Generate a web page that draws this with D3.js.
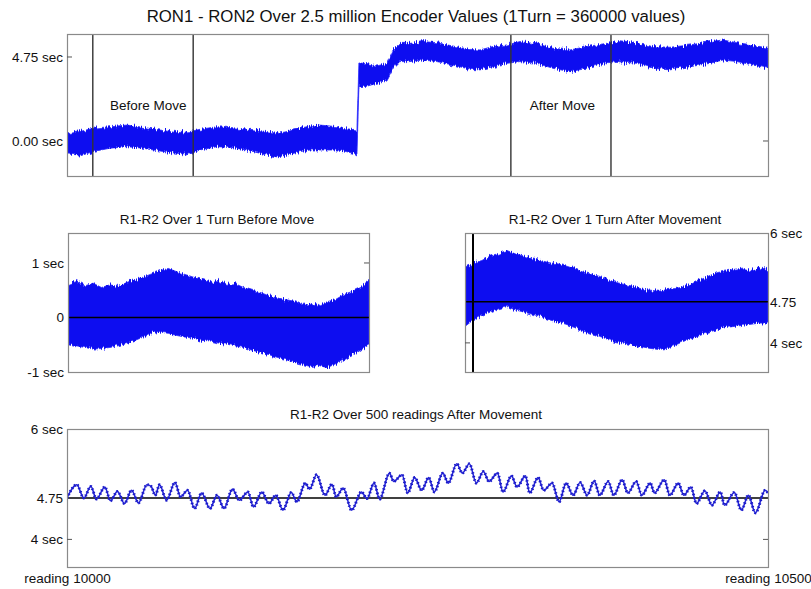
<!DOCTYPE html>
<html>
<head>
<meta charset="utf-8">
<script src="https://cdn.jsdelivr.net/npm/d3@7"></script>
<style>
  body { margin: 0; background: #fff; }
  text { font-family: "Liberation Sans", Arial, sans-serif; fill: #111; }
</style>
</head>
<body>
<svg id="svg" width="811" height="589"></svg>
<script>
// ---- top panel: band envelope over 2.5 million encoder values (x in thousands)
var topPos = [0, 46, 93, 153, 214, 271, 332, 392, 439, 474, 535, 592, 653, 713, 749, 785, 831, 867, 902, 963, 984, 1020, 1034,
  1041, 1070, 1105, 1141, 1163, 1187, 1223, 1270, 1319, 1376, 1437, 1473, 1519, 1569, 1615, 1676, 1733, 1794, 1854, 1911,
  1961, 2033, 2090, 2150, 2222, 2293, 2339, 2389, 2446, 2500];
var topUpper = [0.40, 0.53, 0.72, 0.81, 0.90, 0.77, 0.62, 0.47, 0.53, 0.66, 0.81, 0.75, 0.66, 0.53, 0.43, 0.53, 0.72, 0.85, 0.90, 0.81, 0.70, 0.66, 0.62,
  4.41, 4.38, 4.24, 4.39, 5.15, 5.52, 5.52, 5.62, 5.56, 5.37, 5.18, 5.15, 5.34, 5.43, 5.62, 5.49, 5.24, 5.15, 5.34, 5.49,
  5.62, 5.52, 5.34, 5.30, 5.43, 5.62, 5.71, 5.56, 5.43, 5.24];
var topLower = [-0.79, -0.85, -0.60, -0.41, -0.32, -0.41, -0.57, -0.70, -0.74, -0.51, -0.32, -0.38, -0.55, -0.80, -0.90, -0.80, -0.60, -0.51, -0.51, -0.51, -0.55, -0.70, -0.85,
  3.07, 3.10, 3.26, 3.45, 4.11, 4.49, 4.49, 4.58, 4.49, 4.30, 4.05, 4.02, 4.20, 4.39, 4.49, 4.39, 4.11, 3.92, 4.11, 4.39,
  4.49, 4.39, 4.11, 4.02, 4.20, 4.39, 4.58, 4.49, 4.30, 4.11];
var topMarkers = [92, 450, 1583, 1940];
var topNotes = ["Before Move", "After Move"];
var topNotePos = [290, 1767];
var topTicks = [4.75, 0];

// ---- middle panels: one turn (x in thousands of encoder values)
var turnPos = [0, 10, 20, 30, 40, 50, 60, 70, 80, 90, 100, 110, 120, 130, 140, 150, 160, 170, 180, 190, 200,
  210, 220, 230, 240, 250, 260, 270, 280, 290, 300, 310, 320, 330, 340, 350, 360];
var beforeUpper = [0.60, 0.66, 0.58, 0.63, 0.55, 0.60, 0.57, 0.64, 0.70, 0.74, 0.80, 0.86, 0.90, 0.84, 0.79, 0.74, 0.70, 0.66, 0.68, 0.61, 0.62,
  0.55, 0.50, 0.46, 0.40, 0.36, 0.33, 0.30, 0.24, 0.26, 0.22, 0.29, 0.33, 0.42, 0.48, 0.55, 0.66];
var beforeLower = [-0.48, -0.52, -0.55, -0.58, -0.57, -0.55, -0.52, -0.48, -0.42, -0.36, -0.30, -0.27, -0.29, -0.33, -0.36, -0.38, -0.42, -0.43, -0.47, -0.49, -0.52,
  -0.55, -0.60, -0.64, -0.68, -0.73, -0.77, -0.82, -0.86, -0.90, -0.88, -0.92, -0.85, -0.78, -0.70, -0.60, -0.50];
var afterUpper = [5.38, 5.45, 5.50, 5.58, 5.63, 5.68, 5.62, 5.58, 5.53, 5.50, 5.46, 5.44, 5.40, 5.35, 5.29, 5.25, 5.21, 5.15, 5.10, 5.06, 5.03,
  4.98, 4.96, 4.94, 4.97, 4.99, 5.02, 5.08, 5.15, 5.22, 5.28, 5.31, 5.34, 5.36, 5.32, 5.37, 5.33];
var afterLower = [4.30, 4.42, 4.50, 4.56, 4.62, 4.66, 4.60, 4.56, 4.52, 4.48, 4.42, 4.38, 4.34, 4.28, 4.22, 4.17, 4.12, 4.06, 4.02, 3.99, 3.96,
  3.93, 3.90, 3.88, 3.90, 3.96, 4.03, 4.08, 4.14, 4.20, 4.24, 4.28, 4.30, 4.32, 4.34, 4.36, 4.36];
var afterMarker = 9.5;
var beforeTicks = [1, 0, -1];
var beforeTickLabels = ["1 sec", "0", "-1 sec"];
var afterTicks = [6, 4.75, 4];
var afterTickLabels = ["6 sec", "4.75", "4 sec"];

// ---- bottom panel: 500 readings after movement (peaks and troughs)
var readings = [10000, 10007, 10012, 10017, 10021, 10027, 10031, 10036, 10041, 10046, 10051, 10057, 10060, 10063, 10066, 10071, 10077, 10081, 10086,
  10091, 10096, 10102, 10107, 10112, 10118, 10123, 10129, 10133, 10139, 10144, 10149, 10154, 10160, 10164, 10170, 10173, 10178, 10184,
  10189, 10192, 10197, 10203, 10210, 10214, 10219, 10223, 10230, 10233, 10239, 10243, 10248, 10253, 10258, 10262, 10268, 10272, 10278,
  10282, 10287, 10292, 10297, 10301, 10307, 10311, 10317, 10321, 10327, 10330, 10336, 10340, 10346, 10351, 10356, 10361, 10366, 10371,
  10376, 10380, 10386, 10390, 10396, 10400, 10406, 10410, 10416, 10419, 10426, 10430, 10436, 10440, 10445, 10449, 10455, 10460, 10466,
  10469, 10476, 10481, 10486, 10491, 10498, 10500];
var readingValues = [4.75, 4.99, 4.75, 4.96, 4.73, 4.95, 4.70, 4.87, 4.65, 4.89, 4.66, 4.99, 4.96, 4.80, 4.99, 4.71, 5.03, 4.77, 4.89,
  4.56, 4.84, 4.56, 4.80, 4.56, 4.91, 4.71, 4.86, 4.59, 4.86, 4.65, 4.80, 4.53, 4.85, 4.68, 5.02, 4.91, 5.17, 4.80,
  5.00, 4.77, 4.93, 4.53, 4.86, 4.74, 5.02, 4.73, 5.20, 5.05, 5.17, 4.84, 5.12, 4.89, 5.12, 4.86, 5.20, 5.02, 5.37,
  5.20, 5.37, 5.02, 5.23, 5.05, 5.20, 4.86, 5.15, 4.95, 5.15, 4.84, 5.12, 4.89, 5.02, 4.68, 5.02, 4.80, 5.03, 4.80,
  5.06, 4.80, 5.05, 4.80, 5.08, 4.84, 5.05, 4.80, 5.02, 4.84, 5.08, 4.80, 5.02, 4.80, 4.95, 4.65, 4.88, 4.62, 4.86,
  4.62, 4.85, 4.53, 4.80, 4.48, 4.89, 4.84];
var bottomTicks = [6, 4.75, 4];
var bottomTickLabels = ["6 sec", "4.75", "4 sec"];
var readingTicks = [10000, 10500];

var blue = "#0a0af0";
var frameColor = "#8a8a8a";
var small = "13.5px";
const svg = d3.select('#svg');

// fuzzy top/bottom edge for the dense noisy bands (style only, vertical displacement)
var filt = svg.append('defs').append('filter').attr('id', 'fuzz')
  .attr('x', '-2%').attr('y', '-20%').attr('width', '104%').attr('height', '140%');
filt.append('feTurbulence').attr('type', 'fractalNoise').attr('baseFrequency', '0.9 0.08')
  .attr('numOctaves', 2).attr('seed', 3).attr('result', 'n');
filt.append('feColorMatrix').attr('in', 'n').attr('type', 'matrix')
  .attr('values', '0 0 0 0 0.5  0 1 0 0 0  0 0 0 0 0  0 0 0 0 1').attr('result', 'm');
filt.append('feDisplacementMap').attr('in', 'SourceGraphic').attr('in2', 'm')
  .attr('scale', 8).attr('xChannelSelector', 'R').attr('yChannelSelector', 'G');

function clip(id, x0, x1, y0, y1) {
  svg.append('clipPath').attr('id', id).append('rect')
    .attr('x', x0).attr('y', y0).attr('width', x1 - x0).attr('height', y1 - y0);
}

function frame(x0, x1, y0, y1) {
  svg.append('rect')
    .attr('x', x0 + 0.5).attr('y', y0 + 0.5)
    .attr('width', x1 - x0).attr('height', y1 - y0)
    .style('fill', 'none').style('stroke', frameColor).style('stroke-width', 1.2);
}

function labels(axis, tx, vals, texts) {
  var g = svg.append('g').attr('transform', 'translate(' + tx + ',0)')
    .call(axis.tickValues(vals).tickFormat(function(d, i) { return texts[i]; }).tickSize(0).tickPadding(4));
  g.select('.domain').remove();
  g.selectAll('text').style('font-size', small).style('font-family', '"Liberation Sans", Arial, sans-serif').attr('fill', '#111');
  return g;
}

function tickMark(x0, x1, y) {
  svg.append('line').attr('x1', x0).attr('x2', x1).attr('y1', y).attr('y2', y)
    .style('stroke', '#555').style('stroke-width', 1);
}

function title(txt, x, y, size) {
  svg.append('text').attr('x', x).attr('y', y).attr('text-anchor', 'middle')
    .style('font-size', size).text(txt);
}

function band(id, xs, ys, pos, hi, lo) {
  var data = pos.map(function(p, i) { return { x: p, hi: hi[i], lo: lo[i] }; });
  var area = d3.area()
    .x(function(d) { return xs(d.x); })
    .y0(function(d) { return ys(d.lo); })
    .y1(function(d) { return ys(d.hi); });
  svg.append('g').attr('clip-path', 'url(#' + id + ')')
    .append('path').datum(data)
    .attr('filter', 'url(#fuzz)')
    .attr('d', area)
    .style('fill', blue).style('stroke', '#2a2aff').style('stroke-width', 0.8);
}

// ===== top panel
var xTop = d3.scaleLinear().domain([0, 2500]).range([67, 768]);
var yTop = d3.scaleLinear().domain([-1.98, 6.05]).range([176, 34]);
clip('cTop', 67, 768, 34, 176);
title("RON1 - RON2 Over 2.5 million Encoder Values (1Turn = 360000 values)", 416, 22, '16.8px');
band('cTop', xTop, yTop, topPos, topUpper, topLower);
svg.selectAll('line.mk').data(topMarkers).enter().append('line')
  .attr('class', 'mk')
  .attr('x1', function(d) { return xTop(d); }).attr('x2', function(d) { return xTop(d); })
  .attr('y1', 34).attr('y2', 176)
  .style('stroke', '#333').style('stroke-width', 1.4);
svg.selectAll('text.note').data(topNotes).enter().append('text')
  .attr('class', 'note')
  .attr('x', function(d, i) { return xTop(topNotePos[i]); })
  .attr('y', yTop(2)).attr('dy', '0.35em')
  .attr('text-anchor', 'middle').style('font-size', small)
  .text(function(d) { return d; });
frame(67, 768, 34, 176);
labels(d3.axisLeft(yTop), 67, topTicks, topTicks.map(function(d) { return d.toFixed(2) + ' sec'; }));
tickMark(67, 72, yTop(4.75));
tickMark(763, 768, yTop(0));

// ===== middle left
var xML = d3.scaleLinear().domain([0, 360]).range([68, 369]);
var yML = d3.scaleLinear().domain([-1, 1.55]).range([372, 233]);
clip('cML', 68, 369, 233, 372);
title("R1-R2 Over 1 Turn Before Move", 217, 224, small);
band('cML', xML, yML, turnPos, beforeUpper, beforeLower);
svg.append('line').attr('x1', 68).attr('x2', 369).attr('y1', yML(0)).attr('y2', yML(0))
  .style('stroke', '#000').style('stroke-width', 1.6);
frame(68, 369, 233, 372);
labels(d3.axisLeft(yML), 68, beforeTicks, beforeTickLabels);
tickMark(364, 369, yML(1));

// ===== middle right
var xMR = d3.scaleLinear().domain([0, 360]).range([465, 768]);
var yMR = d3.scaleLinear().domain([3.47, 6]).range([372, 233]);
clip('cMR', 465, 768, 233, 372);
title("R1-R2 Over 1 Turn After Movement", 615, 224, small);
band('cMR', xMR, yMR, turnPos, afterUpper, afterLower);
svg.append('line').attr('x1', 465).attr('x2', 768).attr('y1', yMR(4.75)).attr('y2', yMR(4.75))
  .style('stroke', '#000').style('stroke-width', 1.6);
svg.append('line').attr('x1', xMR(afterMarker)).attr('x2', xMR(afterMarker)).attr('y1', 233).attr('y2', 372)
  .style('stroke', '#000').style('stroke-width', 2);
frame(465, 768, 233, 372);
labels(d3.axisRight(yMR), 768, afterTicks, afterTickLabels).selectAll('text').attr('x', 2);
tickMark(465, 470, yMR(4));

// ===== bottom
var xB = d3.scaleLinear().domain([10000, 10500]).range([67, 768]);
var yB = d3.scaleLinear().domain([3.5, 6]).range([567, 429]);
clip('cB', 67, 768, 429, 567);
title("R1-R2 Over 500 readings After Movement", 416, 419, small);
svg.append('line').attr('x1', 67).attr('x2', 768).attr('y1', yB(4.75)).attr('y2', yB(4.75))
  .style('stroke', '#000').style('stroke-width', 1.4);
var pts = readings.map(function(r, i) { return [r, readingValues[i]]; });
var line = d3.line().curve(d3.curveMonotoneX)
  .x(function(d) { return xB(d[0]); }).y(function(d) { return yB(d[1]); });
svg.append('path').datum(pts).attr('clip-path', 'url(#cB)').attr('d', line)
  .style('fill', 'none').style('stroke', '#2424d8').style('stroke-width', 1.6);
svg.append('path').datum(pts).attr('clip-path', 'url(#cB)').attr('d', line)
  .style('fill', 'none').style('stroke', '#1a1ac8').style('stroke-width', 3)
  .style('stroke-dasharray', '1.3,2.2');
frame(67, 768, 429, 567);
labels(d3.axisLeft(yB), 67, bottomTicks, bottomTickLabels);
tickMark(67, 72, yB(4));
tickMark(763, 768, yB(4));
var gx = svg.append('g').attr('transform', 'translate(0,567)')
  .call(d3.axisBottom(xB).tickValues(readingTicks).tickFormat(function(d) { return 'reading ' + d; }).tickSize(0).tickPadding(6));
gx.select('.domain').remove();
gx.selectAll('text').style('font-size', small).attr('fill', '#111');
</script>
</body>
</html>
